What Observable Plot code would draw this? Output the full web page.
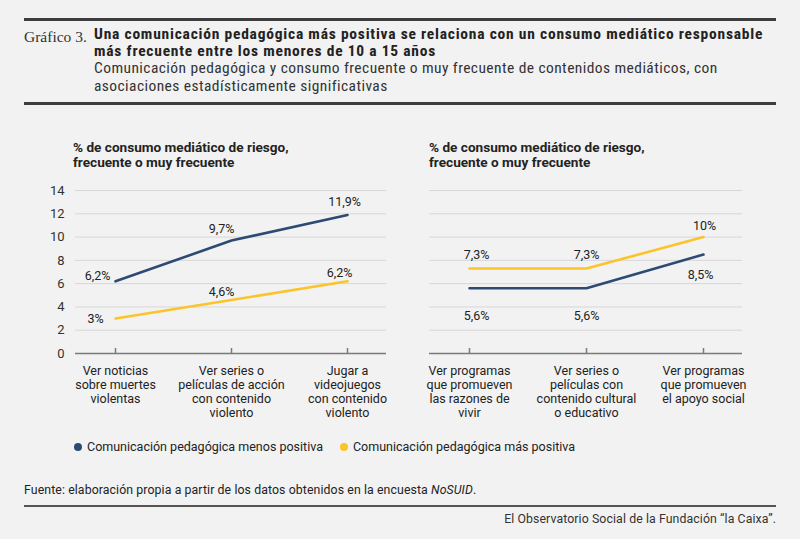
<!DOCTYPE html>
<html>
<head>
<meta charset="utf-8">
<script src="https://cdn.jsdelivr.net/npm/d3@7"></script>
<script src="https://cdn.jsdelivr.net/npm/@observablehq/plot@0.6"></script>
<style>
  html, body { margin: 0; padding: 0; background: #f2f2f2; }
  #root { position: relative; width: 800px; height: 539px; background: #f2f2f2; overflow: hidden; font-family: Roboto, sans-serif; color: #222; }
  .abs { position: absolute; }
  .rule { position: absolute; background: #3d3d3d; }
  .narrow { font-family: "Liberation Sans Narrow", "Roboto Condensed", "DejaVu Sans Condensed", sans-serif; }
  .ytitle { position: absolute; font-family: Roboto, sans-serif; font-weight: 700; font-size: 13.6px; line-height: 15px; color: #222; }
  .legend { position: absolute; top: 439px; left: 74px; font-size: 12.5px; display: flex; align-items: center; color: #222; }
  .legend .sw { display: inline-block; width: 8px; height: 8px; border-radius: 50%; margin-right: 5px; }
  .legend .item { display: flex; align-items: center; margin-right: 17px; }
</style>
</head>
<body>
<div id="root">
  <div class="rule" style="top:18px;left:24px;width:752px;height:2.5px;"></div>
  <div class="abs" style="top:28px;left:24px;font-family:'Liberation Serif',serif;font-size:15.5px;color:#333;">Gráfico 3.</div>
  <div class="abs narrow" id="title" style="top:26px;left:94px;width:700px;font-weight:700;font-size:15.5px;line-height:17px;letter-spacing:0.78px;color:#222;white-space:nowrap;"></div>
  <div class="abs narrow" id="subtitle" style="top:60px;left:94px;width:700px;font-size:15.5px;line-height:17.5px;letter-spacing:0.42px;color:#333;white-space:nowrap;"></div>
  <div class="rule" style="top:102px;left:24px;width:752px;height:2.5px;"></div>

  <div class="ytitle" id="yt1" style="top:140px;left:73px;"></div>
  <div class="ytitle" id="yt2" style="top:140px;left:429px;"></div>

  <div class="abs" id="p1" style="top:175px;left:0px;"></div>
  <div class="abs" id="p2" style="top:175px;left:400px;"></div>

  <div class="legend" id="legend"></div>

  <div class="abs" id="source" style="top:483px;left:24px;font-size:12.3px;letter-spacing:0.1px;color:#222;white-space:nowrap;"></div>
  <div class="rule" style="top:505px;left:24px;width:752px;height:2px;background:#555;"></div>
  <div class="abs" id="footer" style="top:512px;right:24px;font-size:12.3px;letter-spacing:0.1px;color:#333;text-align:right;white-space:nowrap;"></div>
</div>
<script>
// ---- Data ----
const titleText = "Una comunicación pedagógica más positiva se relaciona con un consumo mediático responsable<br>más frecuente entre los menores de 10 a 15 años";
const subtitleText = "Comunicación pedagógica y consumo frecuente o muy frecuente de contenidos mediáticos, con<br>asociaciones estadísticamente significativas";
const yTitleText = "% de consumo mediático de riesgo,<br>frecuente o muy frecuente";
const sourceText = "Fuente: elaboración propia a partir de los datos obtenidos en la encuesta <i>NoSUID</i>.";
const footerText = "El Observatorio Social de la Fundación “la Caixa”.";

const seriesNames = ["Comunicación pedagógica menos positiva", "Comunicación pedagógica más positiva"];
const seriesColors = ["#2d4a74", "#fcc42b"];

const categoriesA = [
  "Ver noticias\nsobre muertes\nviolentas",
  "Ver series o\npelículas de acción\ncon contenido\nviolento",
  "Jugar a\nvideojuegos\ncon contenido\nviolento"
];
const menosA = [6.2, 9.7, 11.9];
const masA = [3, 4.6, 6.2];

const categoriesB = [
  "Ver programas\nque promueven\nlas razones de\nvivir",
  "Ver series o\npelículas con\ncontenido cultural\no educativo",
  "Ver programas\nque promueven\nel apoyo social"
];
const menosB = [5.6, 5.6, 8.5];
const masB = [7.3, 7.3, 10];

const yTicks = [0, 2, 4, 6, 8, 10, 12, 14];

// ---- Header/footer text ----
document.getElementById("title").innerHTML = titleText;
document.getElementById("subtitle").innerHTML = subtitleText;
document.getElementById("yt1").innerHTML = yTitleText;
document.getElementById("yt2").innerHTML = yTitleText;
document.getElementById("source").innerHTML = sourceText;
document.getElementById("footer").textContent = footerText;

const legend = document.getElementById("legend");
seriesNames.forEach((n, i) => {
  const it = document.createElement("span");
  it.className = "item";
  it.innerHTML = `<span class="sw" style="background:${seriesColors[i]}"></span>${n}`;
  legend.appendChild(it);
});

const fmt = v => String(v).replace(".", ",") + "%";

function build(cats, menos, mas) {
  return [
    ...cats.map((c, i) => ({cat: c, v: menos[i], s: seriesNames[0], i})),
    ...cats.map((c, i) => ({cat: c, v: mas[i], s: seriesNames[1], i}))
  ];
}

function lbl(data, si, i, dx, dy) {
  return Plot.text(data.filter(d => d.s === seriesNames[si] && d.i === i), {
    x: "cat", y: "v", text: d => fmt(d.v), dx, dy,
    fill: "#222", fontSize: 12.5, textAnchor: "middle"
  });
}

function panel(cats, menos, mas, showY, marginLeft, marginRight, labelSpecs) {
  const data = build(cats, menos, mas);
  return Plot.plot({
    width: 400,
    height: 260,
    marginLeft,
    marginRight,
    marginTop: 15,
    marginBottom: 82,
    style: {background: "transparent", fontFamily: "Roboto, sans-serif", fontSize: "12.5px", color: "#222", overflow: "visible"},
    x: {type: "point", domain: cats, padding: 0.33, axis: null},
    y: {domain: [0, 14], axis: null},
    color: {domain: seriesNames, range: seriesColors},
    marks: [
      Plot.gridY(yTicks.filter(t => t > 0), {stroke: "#d7d7d7", strokeOpacity: 1, strokeWidth: 1}),
      showY ? Plot.axisY(yTicks, {tickSize: 0, tickPadding: 11, fontSize: 13, fill: "#333", label: null}) : null,
      Plot.ruleY([0], {stroke: "#7a7a7a", strokeWidth: 1.5}),
      Plot.axisX({tickSize: 5, dy: -5, tickPadding: 12, label: null, lineHeight: 1.12, stroke: "#7a7a7a", strokeWidth: 1.5, fill: "#222", fontSize: 12.5}),
      Plot.line(data, {x: "cat", y: "v", z: "s", stroke: "s", strokeWidth: 2.6}),
      ...labelSpecs.map(([si, i, dx, dy]) => lbl(data, si, i, dx, dy))
    ]
  });
}

document.getElementById("p1").appendChild(panel(categoriesA, menosA, masA, true, 75, 14, [
  [0, 0, -18, -5], [0, 1, -10, -12], [0, 2, -3, -13],
  [1, 0, -20, 0], [1, 1, -10, -8], [1, 2, -8, -8]
]));
document.getElementById("p2").appendChild(panel(categoriesB, menosB, masB, false, 29, 58, [
  [1, 0, 7, -14], [1, 1, 0, -14], [1, 2, 1, -11],
  [0, 0, 7, 28], [0, 1, 0, 28], [0, 2, -3, 20]
]));
</script>
</body>
</html>
